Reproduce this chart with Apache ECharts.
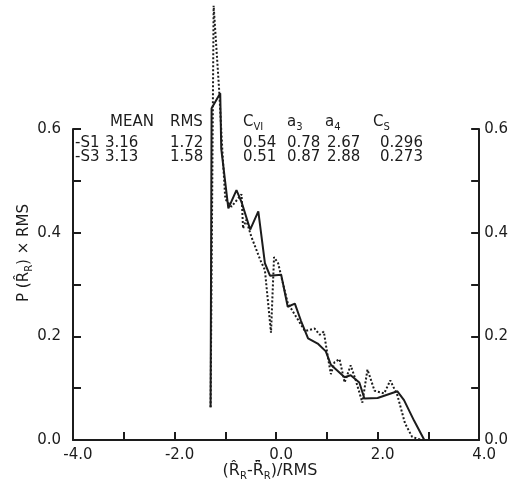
<!DOCTYPE html>
<html>
<head>
<meta charset="utf-8">
<script src="https://cdn.jsdelivr.net/npm/echarts@6/dist/echarts.min.js"></script>
<style>
  html, body { margin: 0; padding: 0; background: #fff; }
  #main { width: 511px; height: 484px; }
</style>
</head>
<body>
<div id="main"></div>
<script>
// solid curve (S1)
var s1X = [-1.29, -1.27, -1.10, -1.08, -0.94, -0.78, -0.68, -0.51, -0.35, -0.22, -0.12, 0.10, 0.23, 0.37,
           0.49, 0.63, 0.82, 0.98, 1.08, 1.35, 1.47, 1.64, 1.74, 2.00, 2.39, 2.52, 2.72, 2.92];
var s1Y = [0.063, 0.640, 0.669, 0.562, 0.447, 0.482, 0.459, 0.406, 0.441, 0.341, 0.317, 0.319, 0.257, 0.263,
           0.230, 0.196, 0.186, 0.171, 0.145, 0.121, 0.125, 0.111, 0.080, 0.081, 0.094, 0.077, 0.037, 0.0];

// dotted curve (S3)
var s3X = [-1.29, -1.23, -1.12, -1.06, -1.00, -0.88, -0.68, -0.65, -0.59, -0.49, -0.31, -0.22, -0.10, -0.04,
           0.04, 0.23, 0.57, 0.76, 0.86, 0.94, 1.02, 1.08, 1.15, 1.25, 1.35, 1.47, 1.57, 1.70,
           1.80, 1.94, 2.13, 2.25, 2.39, 2.54, 2.68, 2.87];
var s3Y = [0.063, 0.838, 0.673, 0.562, 0.465, 0.450, 0.474, 0.408, 0.425, 0.393, 0.347, 0.328, 0.207, 0.353,
           0.341, 0.264, 0.210, 0.215, 0.203, 0.209, 0.160, 0.127, 0.150, 0.156, 0.111, 0.144, 0.115, 0.072,
           0.136, 0.095, 0.090, 0.115, 0.086, 0.032, 0.006, 0.0];

// stats table
var statRows = ['S1', 'S3'];
var statMean = ['3.16', '3.13'];
var statRms = ['1.72', '1.58'];
var statCv = ['0.54', '0.51'];
var statA3 = ['0.78', '0.87'];
var statA4 = ['2.67', '2.88'];
var statCs = ['0.296', '0.273'];

var ink = '#1c1c1c';
var font = 'DejaVu Sans';

function pairs(xs, ys) {
  return xs.map(function (x, i) { return [x, ys[i]]; });
}

var chart = echarts.init(document.getElementById('main'));

var sub = { fontSize: 10, fontFamily: font, color: ink, verticalAlign: 'bottom', lineHeight: 10 };
var txt = function (x, y, s) {
  return {
    type: 'text', left: x, top: y, silent: true,
    style: { text: s, fontSize: 15, fontFamily: font, fill: ink, lineHeight: 20,
             rich: { s: sub } }
  };
};

var graphics = [
  txt(110, 112, 'MEAN'), txt(170, 112, 'RMS'),
  txt(243, 112, 'C{s|VI}'), txt(287, 112, 'a{s|3}'), txt(325, 112, 'a{s|4}'), txt(373, 112, 'C{s|S}')
];
statRows.forEach(function (r, i) {
  var y = 133 + i * 14;
  graphics.push(txt(75, y, '-' + r), txt(105, y, statMean[i]), txt(170, y, statRms[i]),
    txt(243, y, statCv[i]), txt(287, y, statA3[i]), txt(327, y, statA4[i]), txt(380, y, statCs[i]));
});

// axis names
graphics.push({
  type: 'text', x: 24, y: 253, rotation: Math.PI / 2, silent: true,
  style: { text: 'P (R\u0302{s|R}) \u00d7 RMS', fontSize: 15, fontFamily: font, fill: ink,
           align: 'center', verticalAlign: 'middle', lineHeight: 20, rich: { s: sub } }
});
graphics.push({
  type: 'text', x: 270, y: 471, silent: true,
  style: { text: '(R\u0302{s|R}-R\u0302\u0304{s|R})/RMS', fontSize: 16, fontFamily: font, fill: ink,
           align: 'center', verticalAlign: 'middle', lineHeight: 20, rich: { s: sub } }
});

var tickLabel = {
  color: ink, fontSize: 15, fontFamily: font
};

function yAxisFor(pos, margin) {
  return {
    type: 'value', min: 0, max: 0.6, interval: 0.1, position: pos,
    axisLine: { show: true, onZero: false, lineStyle: { color: ink, width: 2 } },
    axisTick: { show: true, inside: true, length: 8, lineStyle: { color: ink, width: 2 } },
    axisLabel: Object.assign({}, tickLabel, {
      margin: margin,
      formatter: function (v) { return Math.round(v * 10) % 2 === 0 ? v.toFixed(1) : ''; }
    }),
    splitLine: { show: false }
  };
}

var option = {
  backgroundColor: '#fff',
  animation: false,
  grid: { left: 73, right: 29, top: 129, bottom: 44 },
  xAxis: {
    type: 'value', min: -4, max: 4, interval: 1,
    axisLine: { onZero: false, lineStyle: { color: ink, width: 2 } },
    axisTick: { inside: true, length: 8, lineStyle: { color: ink, width: 2 } },
    axisLabel: Object.assign({}, tickLabel, {
      margin: 8, padding: [0, 0, 0, 10],
      formatter: function (v) { return Math.round(v) % 2 === 0 ? v.toFixed(1) : ''; }
    }),
    splitLine: { show: false }
  },
  yAxis: [yAxisFor('left', 12), yAxisFor('right', 5)],
  graphic: graphics,
  series: [
    {
      name: 'S1', type: 'line', data: pairs(s1X, s1Y), clip: false,
      showSymbol: false, lineStyle: { color: ink, width: 2 }
    },
    {
      name: 'S3', type: 'line', data: pairs(s3X, s3Y), clip: false,
      showSymbol: false, lineStyle: { color: ink, width: 2, type: [2, 2] }
    }
  ]
};

chart.setOption(option);
</script>
</body>
</html>
